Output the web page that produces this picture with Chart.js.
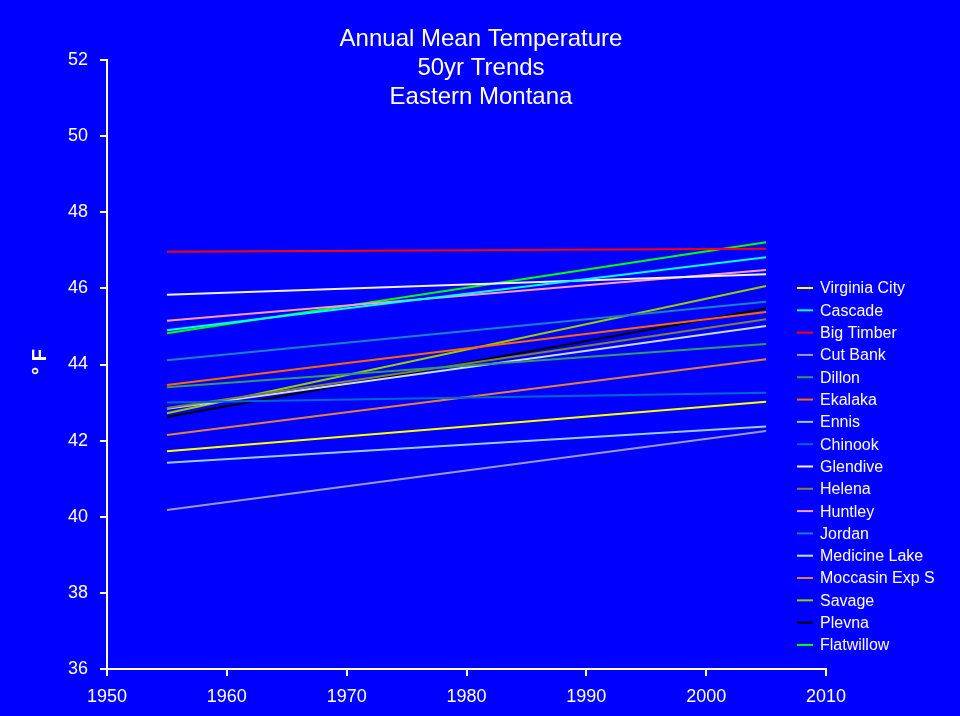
<!DOCTYPE html>
<html>
<head>
<meta charset="utf-8">
<title>Annual Mean Temperature - Eastern Montana</title>
<script src="https://cdn.jsdelivr.net/npm/chart.js@4.4.0/dist/chart.umd.min.js"></script>
<style>
  html, body { margin: 0; padding: 0; background: #0000ff; }
  #trendChart { display: block; background: #0000ff; }
</style>
</head>
<body>
<canvas id="trendChart" width="960" height="716"></canvas>
<script>
const titleLines = ['Annual Mean Temperature', '50yr Trends', 'Eastern Montana'];
const years = [1955, 2005];
const stations = [
  'Virginia City', 'Cascade', 'Big Timber', 'Cut Bank', 'Dillon', 'Ekalaka',
  'Ennis', 'Chinook', 'Glendive', 'Helena', 'Huntley', 'Jordan',
  'Medicine Lake', 'Moccasin Exp S', 'Savage', 'Plevna', 'Flatwillow'
];
// trend value at 1955 and at 2005, deg F
const startTemps = [41.72, 44.90, 46.96, 40.18, 43.40, 43.46, 41.42, 43.00, 45.83, 42.86, 45.15, 44.11, 42.84, 42.15, 42.72, 42.62, 44.82];
const endTemps   = [43.02, 46.82, 47.04, 42.25, 44.54, 45.38, 42.37, 43.26, 46.37, 45.19, 46.48, 45.65, 45.01, 44.14, 46.06, 45.47, 47.21];
const yTicks = [36, 38, 40, 42, 44, 46, 48, 50, 52];
const xTicks = [1950, 1960, 1970, 1980, 1990, 2000, 2010];

const lineColors = [
  '#ffff00', '#00ffff', '#ff0000', '#9999cc', '#339966', '#ff6600',
  '#99ccff', '#0066cc', '#f0f0ff', '#808040', '#ff99cc', '#1a80c0',
  '#c8dcff', '#e08040', '#99cc00', '#000000', '#00ff00'
];
const fontFamily = '"Liberation Sans", Arial, sans-serif';

const datasets = stations.map((name, i) => ({
  label: name,
  data: years.map((yr, j) => ({ x: yr, y: j === 0 ? startTemps[i] : endTemps[i] })),
  borderColor: lineColors[i],
  backgroundColor: lineColors[i],
  borderWidth: 2,
  pointRadius: 0,
  fill: false,
  tension: 0
}));

// title, axis title and legend drawn by hand so they can sit where the original has them
const decorPlugin = {
  id: 'decor',
  afterDraw(chart) {
    const ctx = chart.ctx;
    ctx.save();
    ctx.fillStyle = '#ffffff';
    ctx.textAlign = 'center';
    ctx.textBaseline = 'middle';
    ctx.font = '24px ' + fontFamily;
    titleLines.forEach((t, i) => ctx.fillText(t, 481, 39 + i * 29));

    ctx.save();
    ctx.translate(40, 362);
    ctx.rotate(-Math.PI / 2);
    ctx.font = 'bold 20px ' + fontFamily;
    ctx.fillText('\u00b0 F', 0, 0);
    ctx.restore();

    ctx.textAlign = 'left';
    ctx.font = '16px ' + fontFamily;
    chart.data.datasets.forEach((ds, i) => {
      const y = 288 + i * 22.31;
      ctx.strokeStyle = ds.borderColor;
      ctx.lineWidth = 2;
      ctx.beginPath();
      ctx.moveTo(797, y);
      ctx.lineTo(813, y);
      ctx.stroke();
      ctx.fillStyle = '#ffffff';
      ctx.fillText(ds.label, 820, y + 1);
    });
    ctx.restore();
  }
};

const ctx = document.getElementById('trendChart').getContext('2d');
const trendChart = new Chart(ctx, {
  type: 'line',
  data: { datasets: datasets },
  options: {
    responsive: false,
    animation: false,
    layout: { padding: { top: 60, right: 134, left: 0, bottom: 0 } },
    scales: {
      x: {
        type: 'linear',
        min: 1950,
        max: 2010,
        afterBuildTicks: (scale) => { scale.ticks = xTicks.map(v => ({ value: v })); },
        afterFit: (scale) => { scale.height = 47; },
        border: { color: '#ffffff', width: 2 },
        grid: { drawOnChartArea: false, drawTicks: true, tickLength: 7, color: '#ffffff', lineWidth: 2 },
        ticks: {
          color: '#ffffff',
          font: { family: fontFamily, size: 18 },
          padding: 10,
          maxRotation: 0,
          callback: (value) => String(value)
        }
      },
      y: {
        type: 'linear',
        min: 36,
        max: 52,
        afterBuildTicks: (scale) => { scale.ticks = yTicks.map(v => ({ value: v })); },
        afterFit: (scale) => { scale.width = 107; },
        border: { color: '#ffffff', width: 2 },
        grid: { drawOnChartArea: false, drawTicks: true, tickLength: 7, color: '#ffffff', lineWidth: 2 },
        ticks: { color: '#ffffff', font: { family: fontFamily, size: 18 }, padding: 12 }
      }
    },
    plugins: {
      legend: { display: false },
      title: { display: false },
      tooltip: { enabled: false }
    }
  },
  plugins: [decorPlugin]
});
</script>
</body>
</html>
